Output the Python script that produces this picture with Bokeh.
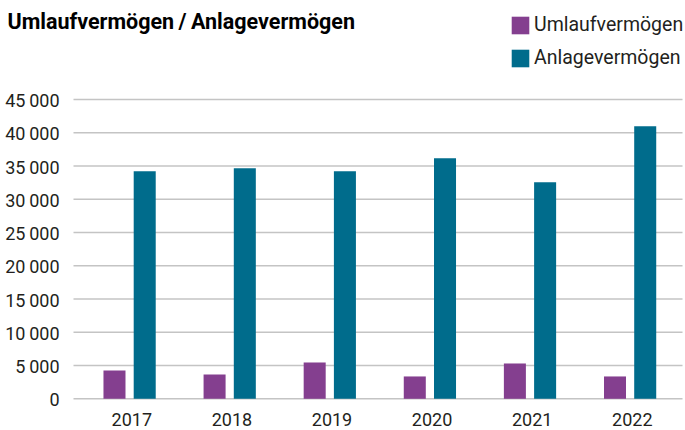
from bokeh.plotting import figure
from bokeh.models import (ColumnDataSource, Range1d, Legend, LegendItem, Label)
from bokeh.transform import dodge
from bokeh.embed import file_html
from bokeh.resources import INLINE

years = ["2017", "2018", "2019", "2020", "2021", "2022"]
umlauf = [4260, 3660, 5460, 3360, 5310, 3360]
anlage = [34200, 34660, 34200, 36170, 32560, 40980]
y_ticks = [0, 5000, 10000, 15000, 20000, 25000, 30000, 35000, 40000, 45000]
y_tick_labels = ["0", "5\u2009000", "10\u2009000", "15\u2009000", "20\u2009000",
                 "25\u2009000", "30\u2009000", "35\u2009000", "40\u2009000", "45\u2009000"]
title_text = "Umlaufvermögen\u2009/\u2009Anlagevermögen"
series_names = ["Umlaufvermögen", "Anlagevermögen"]
colors = ["#843F8F", "#006C8C"]

FONT = "Roboto"
TXT = "#231f20"
W, H = 685, 430

# pixel geometry of the plot area (canvas coordinates)
cat_px0, cat_step = 131.3, 100.1      # centre of first category, spacing
zero_px, top_px = 398.3, 99.0         # y pixel of 0 and of 45000
plot_left_px, plot_right_px = 73, 682

x_per_px = 1.0 / cat_step
x_start = -cat_px0 * x_per_px
x_end = x_start + W * x_per_px
y_per_px = 45000 / (zero_px - top_px)
y_start = -(H - zero_px) * y_per_px
y_end = y_start + H * y_per_px
grid_x0 = x_start + plot_left_px * x_per_px
grid_x1 = x_start + plot_right_px * x_per_px

idx = list(range(len(years)))
src = ColumnDataSource(dict(x=idx, umlauf=umlauf, anlage=anlage, year=years))
ysrc = ColumnDataSource(dict(y=y_ticks, lab=y_tick_labels,
                             x0=[grid_x0] * len(y_ticks), x1=[grid_x1] * len(y_ticks)))

p = figure(width=W, height=H, output_backend="svg", toolbar_location=None,
           x_range=Range1d(x_start, x_end), y_range=Range1d(y_start, y_end),
           min_border=0, x_axis_location=None, y_axis_location=None)
p.outline_line_color = None
p.grid.visible = False
p.background_fill_color = "white"
p.border_fill_color = "white"

# grid lines
p.segment(x0="x0", x1="x1", y0="y", y1="y", source=ysrc,
          line_color="#c4c4c4", line_width=1.6)

r1 = p.vbar(x=dodge("x", -0.173, range=p.x_range), top="umlauf", width=0.22,
            source=src, color=colors[0], line_color=None)
r2 = p.vbar(x=dodge("x", 0.129, range=p.x_range), top="anlage", width=0.22,
            source=src, color=colors[1], line_color=None)

# y tick labels
p.text(x="x0", y="y", text="lab", source=ysrc, x_offset=-14, y_offset=1,
       text_align="right", text_baseline="middle",
       text_font={"value": FONT}, text_font_size="18px", text_color=TXT)
# x tick labels
p.text(x="x", y=0, text="year", source=src, y_offset=14,
       text_align="center", text_baseline="top",
       text_font={"value": FONT}, text_font_size="18px", text_color=TXT)

title = Label(x=7, y=H - 21, x_units="screen", y_units="screen", text=title_text,
              text_font=FONT, text_font_style="bold", text_font_size="21.5px",
              text_color="#000000", text_baseline="alphabetic")
p.add_layout(title)

legend = Legend(items=[LegendItem(label=series_names[0], renderers=[r1]),
                       LegendItem(label=series_names[1], renderers=[r2])],
                location=(509, H - 69), orientation="vertical",
                glyph_width=22, glyph_height=22, label_standoff=3, spacing=10,
                padding=0, margin=0, border_line_color=None,
                background_fill_alpha=0,
                label_text_font=FONT, label_text_font_size="19.5px",
                label_text_color=TXT)
p.add_layout(legend)

open("out.html", "w").write(file_html(p, INLINE))
